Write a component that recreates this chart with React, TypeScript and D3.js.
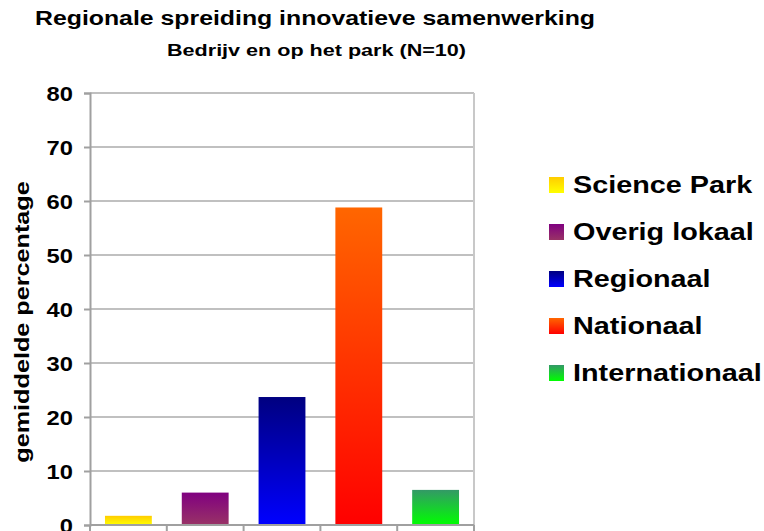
import { useEffect, useRef } from "react";
import * as d3 from "d3";

const categories = ["Science Park", "Overig lokaal", "Regionaal", "Nationaal", "Internationaal"];
const values = [1.7, 6.0, 23.7, 58.8, 6.5];
const gradientTops = ["#ffcc00", "#800080", "#000080", "#ff6600", "#339966"];
const gradientBottoms = ["#ffff00", "#993366", "#0000ff", "#ff0000", "#00ff00"];
const yTicks = [0, 10, 20, 30, 40, 50, 60, 70, 80];

const App = () => {
  const ref = useRef<SVGSVGElement | null>(null);

  useEffect(() => {
    if (!ref.current) return;
    const svg = d3.select(ref.current);
    svg.selectAll("*").remove();

    const width = 764,
      height = 531;
    const margin = { top: 93, right: 290, bottom: 6, left: 90 };
    const plotW = width - margin.left - margin.right;
    const plotH = height - margin.top - margin.bottom;
    const font = "Arial, 'Liberation Sans', sans-serif";

    svg.attr("width", width).attr("height", height).style("font-family", font);

    const defs = svg.append("defs");
    categories.forEach((c, i) => {
      const g = defs
        .append("linearGradient")
        .attr("id", `grad${i}`)
        .attr("x1", 0)
        .attr("y1", 0)
        .attr("x2", 0)
        .attr("y2", 1);
      g.append("stop").attr("offset", "0%").attr("stop-color", gradientTops[i]);
      g.append("stop").attr("offset", "100%").attr("stop-color", gradientBottoms[i]);
    });

    const x = d3.scaleBand().domain(categories).range([0, plotW]).paddingInner(0.39).paddingOuter(0.195);
    const xTickScale = d3.scaleLinear().domain([0, categories.length]).range([0, plotW]);
    const y = d3.scaleLinear().domain([0, 80]).range([plotH, 0]);

    const g = svg.append("g").attr("transform", `translate(${margin.left},${margin.top})`);

    // gridlines
    g.selectAll("line.grid")
      .data(yTicks.slice(1))
      .enter()
      .append("line")
      .attr("x1", 0)
      .attr("x2", plotW)
      .attr("y1", (d) => y(d))
      .attr("y2", (d) => y(d))
      .attr("stroke", "#c0c0c0")
      .attr("stroke-width", 2);

    // right border
    g.append("line")
      .attr("x1", plotW)
      .attr("x2", plotW)
      .attr("y1", 0)
      .attr("y2", plotH)
      .attr("stroke", "#c8c8c8")
      .attr("stroke-width", 2);

    // bars
    g.selectAll("rect.bar")
      .data(values)
      .enter()
      .append("rect")
      .attr("x", (_, i) => x(categories[i])!)
      .attr("y", (d) => y(d))
      .attr("width", x.bandwidth())
      .attr("height", (d) => plotH - y(d))
      .attr("fill", (_, i) => `url(#grad${i})`);

    // y axis (labels drawn separately so they can be stretched)
    const yAxis = g
      .append("g")
      .call(d3.axisLeft(y).tickValues(yTicks).tickSize(6).tickFormat(() => ""));
    yAxis.select(".domain").attr("stroke", "#a0a0a0").attr("stroke-width", 2);
    yAxis.selectAll(".tick line").attr("stroke", "#a0a0a0").attr("stroke-width", 2);

    g.selectAll("text.ytick")
      .data(yTicks)
      .enter()
      .append("text")
      .attr("class", "ytick")
      .attr("transform", (d) => `translate(-17,${y(d) + 7.5}) scale(1.13,1)`)
      .attr("text-anchor", "end")
      .style("font-size", "21px")
      .style("font-weight", "bold")
      .text((d) => d3.format("d")(d));

    // x axis
    const xAxis = g.append("g").attr("transform", `translate(0,${plotH})`);
    xAxis
      .append("line")
      .attr("x1", 0)
      .attr("x2", plotW)
      .attr("stroke", "#a0a0a0")
      .attr("stroke-width", 2);
    xAxis
      .selectAll("line.tick")
      .data(d3.range(categories.length + 1))
      .enter()
      .append("line")
      .attr("x1", (d) => xTickScale(d))
      .attr("x2", (d) => xTickScale(d))
      .attr("y1", 0)
      .attr("y2", 7)
      .attr("stroke", "#a0a0a0")
      .attr("stroke-width", 2);

    // y label
    svg
      .append("text")
      .attr("transform", `translate(29,322) rotate(-90) scale(1.2,1)`)
      .attr("text-anchor", "middle")
      .style("font-size", "21px")
      .style("font-weight", "bold")
      .text("gemiddelde percentage");

    // titles
    svg
      .append("text")
      .attr("x", 35)
      .attr("y", 25)
      .attr("textLength", 560)
      .attr("lengthAdjust", "spacingAndGlyphs")
      .style("font-size", "20px")
      .style("font-weight", "bold")
      .text("Regionale spreiding innovatieve samenwerking");
    svg
      .append("text")
      .attr("x", 167)
      .attr("y", 56)
      .attr("textLength", 299)
      .attr("lengthAdjust", "spacingAndGlyphs")
      .style("font-size", "16px")
      .style("font-weight", "bold")
      .text("Bedrijv en op het park (N=10)");

    // legend
    const legend = svg
      .append("g")
      .selectAll("g")
      .data(categories)
      .enter()
      .append("g")
      .attr("transform", (_, i) => `translate(549,${185 + i * 47})`);
    legend
      .append("rect")
      .attr("x", 0)
      .attr("y", -8)
      .attr("width", 15)
      .attr("height", 16)
      .attr("fill", (_, i) => `url(#grad${i})`);
    legend
      .append("text")
      .attr("transform", "translate(24,8) scale(1.2,1)")
      .style("font-size", "24px")
      .style("font-weight", "bold")
      .text((d) => d);
  }, []);

  return <svg ref={ref} style={{ position: "absolute", left: 0, top: 0, display: "block" }}></svg>;
};

export default App;
